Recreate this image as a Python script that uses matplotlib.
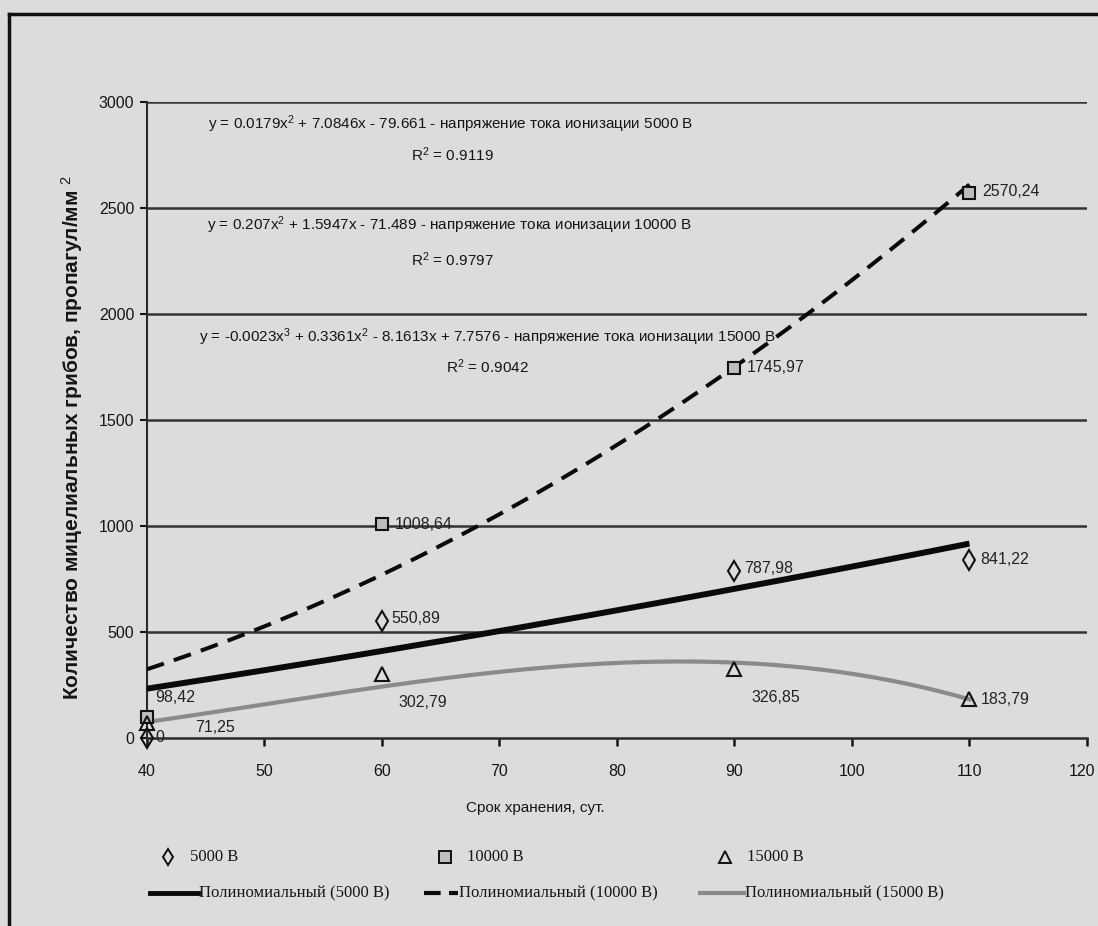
import matplotlib
matplotlib.use("Agg")
import matplotlib.pyplot as plt
import numpy as np
from matplotlib.lines import Line2D
from matplotlib.transforms import ScaledTranslation

# ---------------- data ----------------
days = [40, 60, 90, 110]
v5000 = [0, 550.89, 787.98, 841.22]
v10000 = [98.42, 1008.64, 1745.97, 2570.24]
v15000 = [71.25, 302.79, 326.85, 183.79]
labels5000 = ["0", "550,89", "787,98", "841,22"]
labels10000 = ["98,42", "1008,64", "1745,97", "2570,24"]
labels15000 = ["71,25", "302,79", "326,85", "183,79"]

# polynomial trend-line coefficients (highest power first)
trend5000 = [0.0179, 7.0846, -79.661]
trend10000 = [0.207, 1.5947, -71.489]
trend15000 = [-0.00225, 0.3361, -8.1613, 7.7576]
trend_range = [40, 110]

eq5000 = "y = 0.0179x$^2$ + 7.0846x - 79.661 - напряжение тока ионизации 5000 В"
eq10000 = "y = 0.207x$^2$ + 1.5947x - 71.489 - напряжение тока ионизации 10000 В"
eq15000 = "y = -0.0023x$^3$ + 0.3361x$^2$ - 8.1613x + 7.7576 - напряжение тока ионизации 15000 В"
r2_5000 = "R$^2$ = 0.9119"
r2_10000 = "R$^2$ = 0.9797"
r2_15000 = "R$^2$ = 0.9042"

xticks = [40, 50, 60, 70, 80, 90, 100, 110, 120]
yticks = [0, 500, 1000, 1500, 2000, 2500, 3000]

legend_markers = ["5000 В", "10000 В", "15000 В"]
legend_trends = ["Полиномиальный (5000 В)", "Полиномиальный (10000 В)", "Полиномиальный (15000 В)"]

# ---------------- style ----------------
plt.rcParams["font.family"] = ["Liberation Sans", "DejaVu Sans"]
plt.rcParams["mathtext.fontset"] = "custom"
plt.rcParams["mathtext.rm"] = "Liberation Sans"
plt.rcParams["mathtext.it"] = "Liberation Sans"

BG = "#dcdcdc"
INK = "#151515"
W, H = 1098, 926
fig = plt.figure(figsize=(W / 100, H / 100), dpi=100, facecolor=BG)
L, R, T, B = 146.7, 1087, 101.5, 738
ax = fig.add_axes([L / W, 1 - B / H, (R - L) / W, (B - T) / H])
ax.set_facecolor(BG)

# outer frame (top and left edge of the chart area)
fig.add_artist(Line2D([9 / W, 9 / W], [0, 1 - 14 / H], transform=fig.transFigure, color="#111111", lw=2.5))
fig.add_artist(Line2D([9 / W, 1], [1 - 14 / H, 1 - 14 / H], transform=fig.transFigure, color="#111111", lw=2.5))

ax.set_xlim(40, 120)
ax.set_ylim(0, 3000)
ax.set_xticks(xticks)
ax.set_yticks(yticks)
for y in yticks[1:]:
    ax.axhline(y, color="#333333", lw=1.8, zorder=1)
for s in ["top", "right"]:
    ax.spines[s].set_visible(False)
ax.spines["left"].set_color("#2a2a2a")
ax.spines["left"].set_linewidth(1.5)
ax.spines["bottom"].set_color("#2a2a2a")
ax.spines["bottom"].set_linewidth(1.8)
ax.tick_params(axis="x", direction="out", length=6, width=1.8, pad=13, labelsize=11.5, colors=INK)
ax.tick_params(axis="y", direction="out", length=5, width=1.5, pad=4, labelsize=11.5, colors=INK)

# keep the last x tick label inside the picture
last = ax.get_xticklabels()[-1]
last.set_horizontalalignment("right")
last.set_transform(last.get_transform() + ScaledTranslation(8 / 100, 0, fig.dpi_scale_trans))

# trend lines
xt = np.linspace(trend_range[0], trend_range[1], 200)
ax.plot(xt, np.polyval(trend5000, xt), color="#0a0a0a", lw=4.3, zorder=3, solid_capstyle="butt")
ax.plot(xt, np.polyval(trend10000, xt), color="#0a0a0a", lw=2.9, zorder=3, dashes=(4.5, 2.6))
ax.plot(xt, np.polyval(trend15000, xt), color="#8a8a8a", lw=3.0, zorder=3)

# markers
ax.plot(days, v5000, ls="none", marker="d", ms=10, mfc="none", mec="#111111", mew=1.5, zorder=5, clip_on=False)
ax.plot(days, v10000, ls="none", marker="s", ms=9, mfc="#bdbdbd", mec="#111111", mew=1.5, zorder=5, clip_on=False)
ax.plot(days, v15000, ls="none", marker="^", ms=10, mfc="none", mec="#111111", mew=1.5, zorder=5, clip_on=False)

# data labels (offsets in points)
fs = 11.5
off5000 = [(6, 0), (7, 2), (7, 2), (8, 0)]
for x, y, t, o in zip(days, v5000, labels5000, off5000):
    ax.annotate(t, (x, y), xytext=o, textcoords="offset points", ha="left", va="center", fontsize=fs, color="#222222", zorder=6)
off10000 = [(6, 14), (9, 0), (9, 0), (9, 1)]
for x, y, t, o in zip(days, v10000, labels10000, off10000):
    ax.annotate(t, (x, y), xytext=o, textcoords="offset points", ha="left", va="center", fontsize=fs, color="#222222", zorder=6)
off15000 = [(35, -3), (12, -21), (12, -21), (8, 0)]
for x, y, t, o in zip(days, v15000, labels15000, off15000):
    ax.annotate(t, (x, y), xytext=o, textcoords="offset points", ha="left", va="center", fontsize=fs, color="#222222", zorder=6)

# equations
def ftext(px, py, s, size=11, **kw):
    fig.text(px / W, 1 - py / H, s, fontsize=size, color=INK, ha="center", va="center", **kw)

ftext(451, 124, eq5000)
ftext(452, 155, r2_5000)
ftext(449, 225, eq10000)
ftext(452, 260, r2_10000)
ftext(487, 337, eq15000)
ftext(487, 367, r2_15000)

# axis labels
ax.set_xlabel("Срок хранения, сут.", fontsize=11, color=INK)
ax.xaxis.set_label_coords((535 - L) / (R - L), -(801 - B) / (B - T))
ax.set_ylabel("Количество мицелиальных грибов, пропагул/мм $^2$", fontsize=15, color=INK,
              fontweight="bold")
ax.yaxis.set_label_coords((85 - L) / (R - L), (B - 437) / (B - T))

# legend (manual)
row1, row2 = 857, 893
mk = [("d", 168, "none"), ("s", 445, "#bdbdbd"), ("^", 725, "none")]
for (m, px, fc), t in zip(mk, legend_markers):
    fig.add_artist(Line2D([px / W], [1 - row1 / H], marker=m, ms=8, mfc=fc, mec="#111111", mew=1.4,
                          ls="none", transform=fig.transFigure))
    fig.text((px + 22) / W, 1 - row1 / H, t, fontsize=12, va="center", ha="left", color=INK,
             family=["Liberation Serif", "DejaVu Serif"])
tr = [((150, 198), dict(color="#0a0a0a", lw=3.5)),
      ((424, 458), dict(color="#0a0a0a", lw=3, dashes=(4, 2))),
      ((700, 744), dict(color="#8a8a8a", lw=3))]
for ((x0, x1), st), t in zip(tr, legend_trends):
    fig.add_artist(Line2D([x0 / W, x1 / W], [1 - row2 / H, 1 - row2 / H], transform=fig.transFigure, **st))
    fig.text((x1 + 1) / W, 1 - row2 / H, t, fontsize=12, va="center", ha="left", color=INK,
             family=["Liberation Serif", "DejaVu Serif"])

fig.savefig("out.png", dpi=100, facecolor=BG)
